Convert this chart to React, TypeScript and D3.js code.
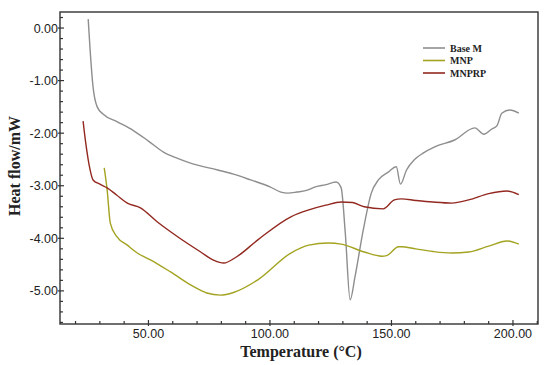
import React from 'react';
import * as d3 from 'd3';

// values
const baseTemp = [25.2, 26, 27.2, 28.9, 31.4, 37, 43.8, 50, 56.2, 62, 67.3, 78.5, 85, 92.1, 100, 104.5, 107.4, 111, 115.7, 118.1, 123, 127.2, 129.3, 131, 133, 135, 138.4, 141.7, 144.6, 148.7, 152, 153.7, 156.2, 159.5, 163, 167.8, 176, 184.3, 188, 191.3, 193.5, 195.4, 198.7, 202.4];
const baseFlow = [0.17, -0.42, -1.12, -1.5, -1.64, -1.78, -1.95, -2.15, -2.36, -2.48, -2.57, -2.7, -2.78, -2.89, -3.02, -3.12, -3.14, -3.12, -3.08, -3.03, -2.98, -2.93, -3.04, -3.9, -5.17, -4.73, -3.84, -3.14, -2.89, -2.74, -2.64, -2.97, -2.7, -2.5, -2.38, -2.26, -2.13, -1.9, -2.02, -1.92, -1.85, -1.62, -1.56, -1.62];

const mnpTemp = [31.8, 33, 34.3, 37, 41.3, 45.4, 50.8, 59.1, 68.6, 74, 79.7, 85, 95, 108.6, 116, 124, 129.3, 138.8, 146, 148, 152.9, 154, 160, 167, 174.8, 181.8, 190, 197.5, 202.4];
const mnpFlow = [-2.66, -3.08, -3.71, -3.97, -4.13, -4.28, -4.41, -4.64, -4.92, -5.04, -5.08, -5.03, -4.79, -4.28, -4.13, -4.09, -4.11, -4.26, -4.34, -4.33, -4.16, -4.16, -4.2, -4.25, -4.28, -4.26, -4.15, -4.05, -4.11];

const mnprpTemp = [23.1, 24.2, 26, 27.2, 30, 33, 37, 41.3, 46.7, 53.7, 62, 71.5, 77, 81, 86, 95, 108.6, 116, 123, 129.3, 134, 138.8, 146.6, 151.2, 154, 160, 167, 174.8, 181.8, 190, 197.5, 202.4];
const mnprpFlow = [-1.77, -2.19, -2.7, -2.89, -2.97, -3.04, -3.18, -3.33, -3.42, -3.69, -3.97, -4.26, -4.42, -4.47, -4.36, -4.03, -3.59, -3.46, -3.37, -3.31, -3.32, -3.4, -3.44, -3.27, -3.25, -3.28, -3.31, -3.33, -3.27, -3.15, -3.1, -3.17];

const seriesNames = ['Base M', 'MNP', 'MNPRP'];
const seriesColors = ['#8e8e8e', '#a3a321', '#92281f'];

const xTicks = [50, 100, 150, 200];
const yTicks = [0, -1, -2, -3, -4, -5];

const W = 550;
const H = 365;
const margin = { top: 12, right: 12, bottom: 41, left: 60 };

const App = () => {
  const x = d3.scaleLinear().domain([13.6, 210.3]).range([margin.left, W - margin.right]);
  const y = d3.scaleLinear().domain([0.305, -5.63]).range([margin.top, H - margin.bottom]);

  const makeLine = (ts: number[], vs: number[]) =>
    d3.line<number>()
      .x((d, i) => x(ts[i]))
      .y((d) => y(d))
      .curve(d3.curveMonotoneX)(vs) || '';

  const series = [
    { t: baseTemp, v: baseFlow },
    { t: mnpTemp, v: mnpFlow },
    { t: mnprpTemp, v: mnprpFlow },
  ];

  const x0 = margin.left;
  const y0 = H - margin.bottom;
  const xMinor = d3.range(20, 211, 10).filter((t) => t % 50 !== 0);
  const yMinor = d3.range(0.2, -5.61, -0.2).filter((v) => Math.abs(v - Math.round(v)) > 0.01);

  return (
    <svg width={W} height={H} style={{ position: 'absolute', left: 0, top: 0, background: '#fff' }}>
      <rect x={x0} y={margin.top} width={W - margin.right - x0} height={y0 - margin.top}
        fill="none" stroke="#333" strokeWidth={1.4} />

      {/* x ticks */}
      {xMinor.map((t) => (
        <line key={'xm' + t} x1={x(t)} x2={x(t)} y1={y0} y2={y0 - 3} stroke="#333" strokeWidth={1.2} />
      ))}
      {xTicks.map((t) => (
        <g key={'x' + t}>
          <line x1={x(t)} x2={x(t)} y1={y0 + 2} y2={y0 - 4} stroke="#333" strokeWidth={1.2} />
          <text x={x(t)} y={y0 + 14} textAnchor="middle" fontFamily="'Liberation Sans', Arial, sans-serif"
            fontSize={12.5} fill="#222">{t.toFixed(2)}</text>
        </g>
      ))}

      {/* y ticks */}
      {yMinor.map((v) => (
        <line key={'ym' + v.toFixed(1)} x1={x0} x2={x0 + 3} y1={y(v)} y2={y(v)} stroke="#333" strokeWidth={1.2} />
      ))}
      {yTicks.map((v) => (
        <g key={'y' + v}>
          <line x1={x0 - 2} x2={x0 + 4} y1={y(v)} y2={y(v)} stroke="#333" strokeWidth={1.2} />
          <text x={x0 - 2} y={y(v) + 4.5} textAnchor="end" fontFamily="'Liberation Sans', Arial, sans-serif"
            fontSize={12.5} fill="#222">{v.toFixed(2)}</text>
        </g>
      ))}

      {series.map((s, i) => (
        <path key={seriesNames[i]} d={makeLine(s.t, s.v)} fill="none" stroke={seriesColors[i]}
          strokeWidth={1.4} strokeLinejoin="round" />
      ))}

      {/* legend */}
      {seriesNames.map((n, i) => (
        <g key={'lg' + n} transform={`translate(423, ${48 + i * 12.5})`}>
          <line x1={0} x2={22} y1={0} y2={0} stroke={seriesColors[i]} strokeWidth={1.6} />
          <text x={27} y={3.5} fontFamily="'Liberation Serif', 'Times New Roman', serif" fontWeight="bold"
            fontSize={10} fill="#222">{n}</text>
        </g>
      ))}

      <text x={301} y={357} textAnchor="middle" fontFamily="'Liberation Serif', 'Times New Roman', serif"
        fontWeight="bold" fontSize={16} fill="#222">Temperature (°C)</text>
      <text transform="translate(20, 166) rotate(-90)" textAnchor="middle"
        fontFamily="'Liberation Serif', 'Times New Roman', serif" fontWeight="bold" fontSize={16}
        fill="#222">Heat flow/mW</text>
    </svg>
  );
};

export default App;
